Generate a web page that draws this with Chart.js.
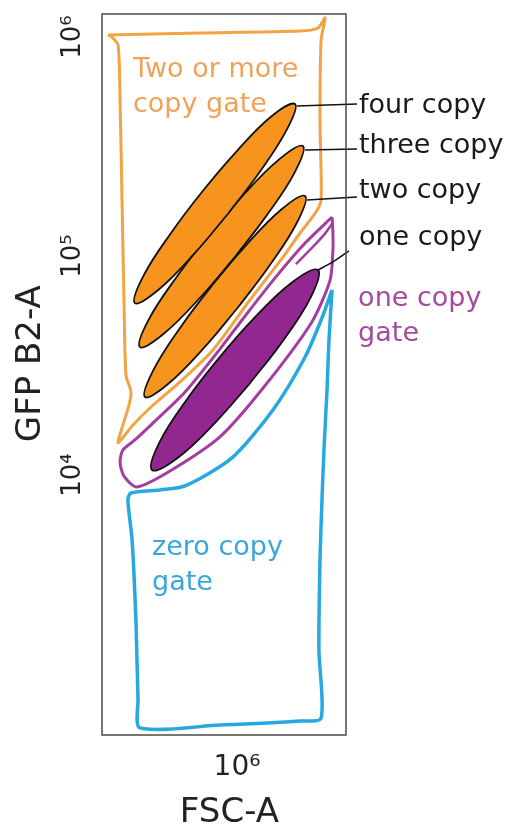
<!DOCTYPE html>
<html>
<head>
<meta charset="utf-8">
<script src="https://cdn.jsdelivr.net/npm/chart.js@4.4.1/dist/chart.umd.min.js"></script>
<style>
  html,body{margin:0;padding:0;background:#fff;}
  #wrap{width:506px;height:834px;}
</style>
</head>
<body>
<div id="wrap"><canvas id="chartGate"></canvas></div>
<script>
// nilai sumbu dalam dekade (log10)
const yTicks=[4,5,6];
const yTickLabels=['10⁴','10⁵','10⁶'];
const xTicks=[6];
const xTickLabels=['10⁶'];

// gate (garis tangan), [FSC-A, GFP] dalam log10
const gateTwoPlus=[[5.411,6.009],[5.831,6.018],[6.288,6.027],[6.370,6.041],[6.402,6.087],[6.384,5.986],[6.379,5.621],[6.384,5.256],[6.361,5.201],[6.288,5.105],[6.210,4.995],[6.059,4.799],[5.890,4.571],[5.740,4.425],[5.612,4.315],[5.521,4.224],[5.457,4.146],[5.479,4.228],[5.507,4.320],[5.516,4.379],[5.493,4.457],[5.484,4.799],[5.475,5.256],[5.466,5.712],[5.457,5.963],[5.429,6.000],[5.411,6.009]];
const gateOne=[[6.434,5.178],[6.311,5.059],[6.174,4.900],[6.037,4.726],[5.922,4.575],[5.763,4.379],[5.616,4.237],[5.534,4.160],[5.479,4.114],[5.466,4.059],[5.484,3.995],[5.543,3.945],[5.694,4.018],[5.922,4.174],[6.119,4.397],[6.342,4.699],[6.425,4.890],[6.438,5.027],[6.438,5.105],[6.434,5.178]];
const gateOneInner=[[6.436,5.150],[6.400,5.100],[6.342,5.037],[6.269,4.963]];
const gateZero=[[6.434,4.845],[6.420,4.616],[6.411,4.388],[6.397,4.114],[6.388,3.886],[6.379,3.612],[6.374,3.201],[6.384,2.890],[6.288,2.877],[5.922,2.858],[5.557,2.845],[5.548,2.973],[5.539,3.324],[5.521,3.703],[5.502,3.886],[5.516,3.918],[5.648,3.932],[5.763,3.950],[5.977,4.078],[6.164,4.297],[6.311,4.539],[6.388,4.717],[6.434,4.845]];

// populasi (elips)
const popFour=[[5.960,5.194],[6.101,5.380],[6.228,5.578],[6.265,5.694],[6.155,5.636],[5.990,5.469],[5.839,5.291],[5.698,5.104],[5.571,4.906],[5.534,4.785],[5.644,4.848],[5.809,5.015],[5.960,5.194]];
const popThree=[[5.990,4.995],[6.133,5.182],[6.263,5.381],[6.301,5.502],[6.191,5.440],[6.023,5.272],[5.869,5.092],[5.725,4.905],[5.595,4.706],[5.557,4.584],[5.668,4.647],[5.836,4.815],[5.990,4.995]];
const popTwo=[[6.006,4.767],[6.147,4.954],[6.274,5.153],[6.311,5.274],[6.201,5.211],[6.036,5.043],[5.885,4.864],[5.743,4.676],[5.617,4.477],[5.580,4.356],[5.689,4.419],[5.855,4.587],[6.006,4.767]];
const popOne=[[6.061,4.421],[6.207,4.609],[6.336,4.810],[6.370,4.936],[6.252,4.880],[6.078,4.716],[5.921,4.538],[5.775,4.350],[5.646,4.149],[5.612,4.023],[5.730,4.079],[5.904,4.243],[6.061,4.421]];

// garis penunjuk ke label
const leadFour=[[6.274,5.685],[6.548,5.694]];
const leadThree=[[6.311,5.484],[6.548,5.489]];
const leadTwo=[[6.320,5.256],[6.548,5.269]];
const leadOne=[[6.370,4.936],[6.438,4.973],[6.511,5.023]];

// teks anotasi
const noteText=['Two or more','copy gate','four copy','three copy','two copy','one copy','one copy','gate','zero copy','gate'];
const noteX=[5.525,5.525,6.557,6.557,6.557,6.557,6.553,6.553,5.612,5.612];
const noteY=[5.817,5.658,5.653,5.470,5.265,5.050,4.772,4.612,3.635,3.475];
const noteColor=['#eda35a','#eda35a','#1a1a1a','#1a1a1a','#1a1a1a','#1a1a1a','#a64a9f','#a64a9f','#3aa6dc','#3aa6dc'];

const pts=a=>a.map(([x,y])=>({x,y}));
const gate=(d,c,w)=>({data:pts(d),borderColor:c,borderWidth:w,tension:0.25,pointRadius:0,fill:false,order:3});
const pop=(d,c)=>({data:pts(d),borderColor:'#111',borderWidth:1.8,tension:0.4,pointRadius:0,fill:false,shapeColor:c,order:2});
const lead=d=>({data:pts(d),borderColor:'#111',borderWidth:1.5,tension:0.3,pointRadius:0,fill:false,clip:false,order:1});

// isi bentuk tertutup sebelum garisnya digambar
const shapeFill={
  id:'shapeFill',
  beforeDatasetDraw(chart,args){
    const ds=chart.data.datasets[args.index];
    if(!ds.shapeColor) return;
    const line=args.meta.dataset;
    line.updateControlPoints(chart.chartArea,'x');
    const ctx=chart.ctx;
    ctx.save();
    ctx.beginPath();
    line.path(ctx);
    ctx.closePath();
    ctx.fillStyle=ds.shapeColor;
    ctx.fill();
    ctx.restore();
  }
};

// bingkai + label teks
const notes={
  id:'notes',
  afterDraw(chart){
    const {ctx,chartArea:a,scales:{x,y}}=chart;
    ctx.save();
    ctx.strokeStyle='#4a4a4a';ctx.lineWidth=1.5;
    ctx.strokeRect(a.left,a.top,a.right-a.left,a.bottom-a.top);
    ctx.font='27px "DejaVu Sans"';
    ctx.textBaseline='alphabetic';ctx.textAlign='left';
    noteText.forEach((t,i)=>{
      ctx.fillStyle=noteColor[i];
      ctx.fillText(t,x.getPixelForValue(noteX[i]),y.getPixelForValue(noteY[i]));
    });
    ctx.restore();
  }
};

new Chart(document.getElementById('chartGate'),{
  type:'line',
  data:{datasets:[
    lead(leadFour),lead(leadThree),lead(leadTwo),lead(leadOne),
    pop(popFour,'#f7941e'),pop(popThree,'#f7941e'),pop(popTwo,'#f7941e'),pop(popOne,'#92278f'),
    gate(gateTwoPlus,'#f2a444',3),gate(gateOne,'#a33ea0',3),gate(gateOneInner,'#a33ea0',2.5),gate(gateZero,'#27a8e0',3.5)
  ]},
  options:{
    responsive:true,maintainAspectRatio:false,animation:false,events:[],
    layout:{padding:{left:0,right:160,top:14,bottom:0}},
    plugins:{legend:{display:false},tooltip:{enabled:false}},
    scales:{
      x:{type:'linear',min:5.3836,max:6.4977,
        afterBuildTicks:s=>{s.ticks=xTicks.map(v=>({value:v}));},
        afterFit:s=>{s.height=99;s.paddingLeft=0;s.paddingRight=0;},
        grid:{display:false,drawTicks:false},border:{display:false},
        ticks:{padding:16,color:'#222',font:{family:'DejaVu Sans',size:28},callback:(v,i)=>xTickLabels[i]},
        title:{display:true,text:' FSC-A',color:'#222',font:{family:'DejaVu Sans',size:34},padding:{top:0,bottom:0}}
      },
      y:{type:'linear',min:2.8128,max:6.105,
        afterBuildTicks:s=>{s.ticks=yTicks.map(v=>({value:v}));},
        afterFit:s=>{s.width=102;s.paddingTop=0;s.paddingBottom=0;},
        grid:{display:false,drawTicks:false},border:{display:false},
        ticks:{padding:7,minRotation:90,maxRotation:90,crossAlign:'center',color:'#222',font:{family:'DejaVu Sans',size:26},callback:(v,i)=>yTickLabels[i]},
        title:{display:true,text:'  GFP B2-A',color:'#222',font:{family:'DejaVu Sans',size:34},padding:{top:11,bottom:0}}
      }
    }
  },
  plugins:[shapeFill,notes]
});
</script>
</body>
</html>
